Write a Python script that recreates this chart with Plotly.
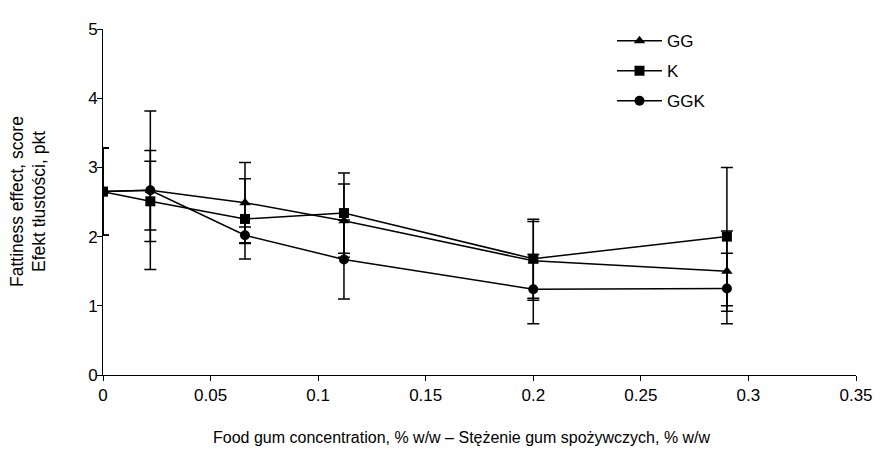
import plotly.graph_objects as go

# Data
conc = [0, 0.022, 0.066, 0.112, 0.2, 0.29]

gg_mean = [2.65, 2.67, 2.49, 2.23, 1.65, 1.50]
gg_err = [0.63, 0.575, 0.58, 0.53, 0.57, 0.58]

k_mean = [2.65, 2.51, 2.255, 2.34, 1.68, 2.00]
k_err = [0.63, 0.58, 0.58, 0.58, 0.57, 1.00]

ggk_mean = [2.65, 2.67, 2.02, 1.67, 1.24, 1.25]
ggk_err = [0.63, 1.145, 0.12, 0.57, 0.50, 0.51]

series = [
    ("GG", gg_mean, gg_err, "triangle-up"),
    ("K", k_mean, k_err, "square"),
    ("GGK", ggk_mean, ggk_err, "circle"),
]

x_ticks = [0, 0.05, 0.1, 0.15, 0.2, 0.25, 0.3, 0.35]
x_ticklabels = ["0", "0.05", "0.1", "0.15", "0.2", "0.25", "0.3", "0.35"]
y_ticks = [0, 1, 2, 3, 4, 5]

FONT = "Liberation Sans, Arial, sans-serif"

# The page body has an 8px margin, so the figure is sized to fit the window
OFF = 8

fig = go.Figure()
for name, mean, err, sym in series:
    fig.add_trace(go.Scatter(
        x=conc, y=mean, name=name, mode="lines+markers",
        legendgroup=name,
        line=dict(color="black", width=1.5),
        marker=dict(symbol=sym, size=10, color="black"),
        error_y=dict(type="data", array=err, visible=True, color="black",
                     thickness=1.5, width=6),
    ))

fig.update_layout(
    width=887 - OFF, height=450 - OFF,
    margin=dict(l=103 - OFF, r=31, t=24 - OFF, b=75),
    paper_bgcolor="white", plot_bgcolor="white",
    font=dict(family=FONT, size=16, color="black"),
    showlegend=True,
    legend=dict(x=(612 - 103) / 753, y=(375 - 18) / 351, xanchor="left", yanchor="top",
                bgcolor="rgba(0,0,0,0)", font=dict(size=17),
                tracegroupgap=5, itemwidth=45),
    xaxis=dict(range=[0, 0.35], tickvals=x_ticks, ticktext=x_ticklabels,
               showline=True, linecolor="black", linewidth=1,
               ticks="outside", ticklen=5, tickcolor="black",
               tickfont=dict(size=17),
               showgrid=False, zeroline=False, fixedrange=True),
    yaxis=dict(range=[0, 5], tickvals=y_ticks,
               showline=True, linecolor="black", linewidth=1,
               ticks="outside", ticklen=5, tickcolor="black",
               tickfont=dict(size=17), ticklabelstandoff=-4,
               showgrid=False, zeroline=False, fixedrange=True),
    annotations=[
        dict(text="Fattiness effect, score", xref="paper", yref="paper",
             x=0, y=0.5, xanchor="center", yanchor="middle", textangle=-90,
             xshift=-86, showarrow=False, font=dict(size=17.5)),
        dict(text="Efekt tłustości, pkt", xref="paper", yref="paper",
             x=0, y=0.5, xanchor="center", yanchor="middle", textangle=-90,
             xshift=-64, showarrow=False, font=dict(size=17.5)),
        dict(text="Food gum concentration, % w/w – Stężenie gum spożywczych, % w/w",
             xref="paper", yref="paper", x=(462 - 103) / 753, y=0,
             xanchor="center", yanchor="middle", yshift=-62,
             showarrow=False, font=dict(size=16)),
    ],
)

fig.write_html("out.html")
